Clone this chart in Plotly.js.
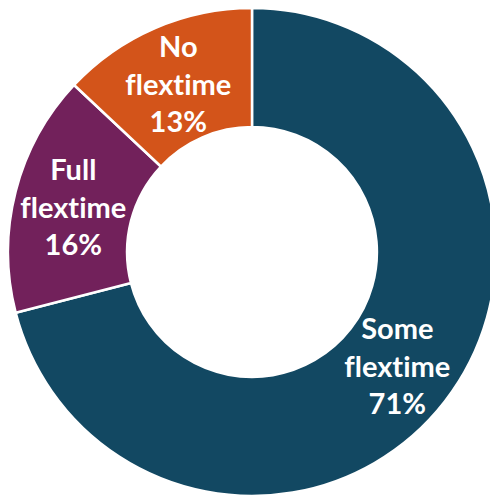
<!DOCTYPE html>
<html>
<head>
<meta charset="utf-8">
<script src="https://cdn.plot.ly/plotly-3.0.1.min.js"></script>
<style>
html, body { margin: 0; padding: 0; overflow: hidden; background: #ffffff; }
#chart { width: 504px; height: 504px; }
#chart text { font-variant-ligatures: none; font-feature-settings: "liga" 0, "clig" 0; }
</style>
</head>
<body>
<div id="chart"></div>
<script>
const categories = ['Some flextime', 'Full flextime', 'No flextime'];
const shares = [71, 16, 13];
const sliceColors = ['#124862', '#72215B', '#D3541A'];

const HOLE = 0.512;

const trace = {
  type: 'pie',
  values: shares,
  labels: categories,
  hole: HOLE,
  sort: false,
  direction: 'clockwise',
  rotation: 0,
  marker: { colors: sliceColors, line: { color: '#ffffff', width: 2.5 } },
  textinfo: 'none',
  hoverinfo: 'label+percent',
  showlegend: false
};

// Labels placed at each slice's mid-angle, mid-ring (derived from the data)
const total = shares.reduce((a, b) => a + b, 0);
const ringMid = (HOLE + 1) / 4; // in paper units (domain radius 0.5)
let cum = 0;
const annotations = shares.map((v, i) => {
  const mid = (cum + v / 2) / total * 2 * Math.PI;
  cum += v;
  const pct = Math.round(v / total * 100) + '%';
  return {
    xref: 'paper', yref: 'paper',
    x: 0.5 + ringMid * Math.sin(mid),
    y: 0.5 + ringMid * Math.cos(mid),
    xanchor: 'center', yanchor: 'middle',
    showarrow: false,
    text: categories[i].replace(' ', '<br>') + '<br>' + pct,
    font: { family: 'Lato, "Open Sans", sans-serif', size: 29, color: '#ffffff', weight: 'bold' }
  };
});

const layout = {
  width: 504,
  height: 504,
  margin: { l: 8, r: 8, t: 8, b: 8, pad: 0 },
  paper_bgcolor: '#ffffff',
  showlegend: false,
  annotations: annotations
};

Plotly.newPlot('chart', [trace], layout, { displayModeBar: false, staticPlot: true });
</script>
</body>
</html>
